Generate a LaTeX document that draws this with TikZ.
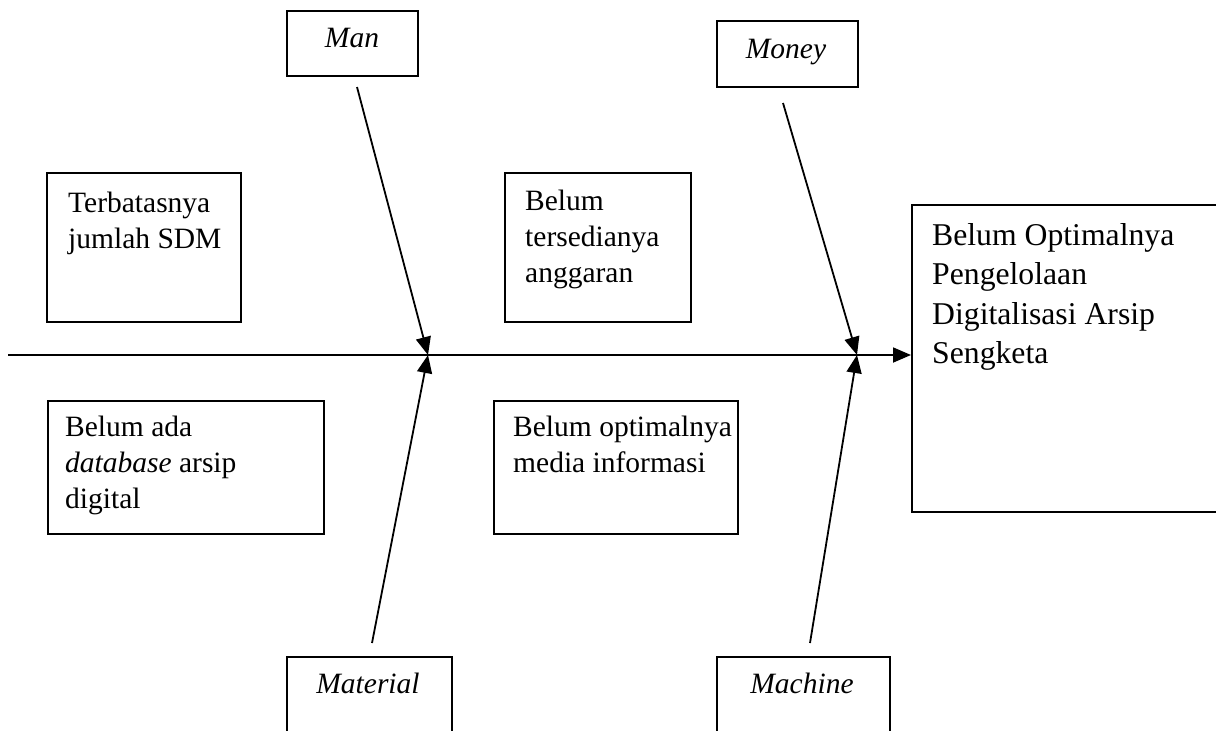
\documentclass[tikz,border=0pt]{standalone}
\usepackage{fontspec}
\setmainfont{Liberation Serif}
\usetikzlibrary{arrows.meta}
\begin{document}
\begin{tikzpicture}[x=1pt,y=-1pt,
  box/.style={draw, line width=1.8pt, inner sep=0pt, anchor=north west},
  lab/.style={inner sep=0pt, anchor=base west, font=\fontsize{29.5}{36}\selectfont},
  biglab/.style={inner sep=0pt, anchor=base west, font=\fontsize{31.7}{39.5}\selectfont},
  cat/.style={inner sep=0pt, anchor=base, font=\fontsize{29.5}{36}\selectfont\itshape},
  arr/.style={line width=1.8pt, -{Triangle[length=18pt,width=15pt]}}]
\useasboundingbox (0,0) rectangle (1216,731);
\clip (0,0) rectangle (1216,731);
% category boxes
\node[box, minimum width=131pt, minimum height=65pt] (man) at (286,10) {};
\node[cat] (manl) at (352,47) {Man};
\node[box, minimum width=141pt, minimum height=66pt] (money) at (716,20) {};
\node[cat] (moneyl) at (786,58) {Money};
\node[box, minimum width=165pt, minimum height=100pt] (mat) at (286,656) {};
\node[cat] (matl) at (368,693) {Material};
\node[box, minimum width=173pt, minimum height=100pt] (mach) at (716,656) {};
\node[cat] (machl) at (802,693) {Machine};
% cause boxes
\node[box, minimum width=194pt, minimum height=149pt] (tb) at (46,172) {};
\node[lab] (tbl) at (68,212) {\begin{tabular}[t]{@{}l@{}}Terbatasnya\\jumlah SDM\end{tabular}};
\node[box, minimum width=186pt, minimum height=149pt] (bt) at (504,172) {};
\node[lab] (btl) at (525,210) {\begin{tabular}[t]{@{}l@{}}Belum\\tersedianya\\anggaran\end{tabular}};
\node[box, minimum width=276pt, minimum height=133pt] (ba) at (47,400) {};
\node[lab] (bal) at (65,436) {\begin{tabular}[t]{@{}l@{}}Belum ada\\\textit{database} arsip\\digital\end{tabular}};
\node[box, minimum width=244pt, minimum height=133pt] (bo) at (493,400) {};
\node[lab] (bol) at (513,436) {\begin{tabular}[t]{@{}l@{}}Belum optimalnya\\media informasi\end{tabular}};
% effect box
\node[box, minimum width=330pt, minimum height=307pt] (rb) at (911,204) {};
\node[biglab] (rbl) at (932,245) {\begin{tabular}[t]{@{}l@{}}Belum Optimalnya\\Pengelolaan\\Digitalisasi Arsip\\Sengketa\end{tabular}};
% spine
\coordinate (s0) at (8,355);
\coordinate (j1) at (428,355);
\coordinate (j2) at (857,355);
\draw[arr] (s0) -- (s0 -| rb.west);
% bones
\coordinate (manT) at (357,87);
\coordinate (moneyT) at (783,103);
\coordinate (matT) at (372,643);
\coordinate (machT) at (810,643);
\draw[arr] (manT) -- (j1);
\draw[arr] (matT) -- (j1);
\draw[arr] (moneyT) -- (j2);
\draw[arr] (machT) -- (j2);
\end{tikzpicture}
\end{document}
